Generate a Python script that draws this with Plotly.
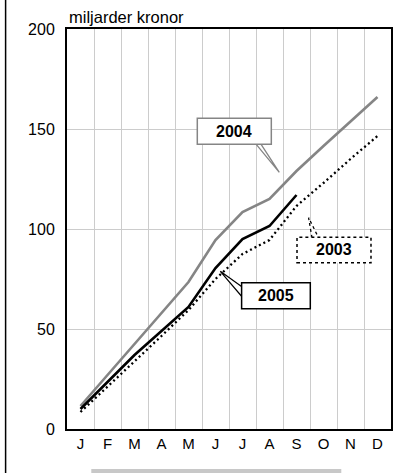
import plotly.graph_objects as go

months = ["J", "F", "M", "A", "M", "J", "J", "A", "S", "O", "N", "D"]
y2003 = [8.5, 21, 34, 46.5, 59.5, 75, 87.5, 94.5, 111.5, 123, 135, 146.5]
y2004 = [11.5, 27, 42.5, 58, 73.5, 94.5, 108.5, 115, 129, 141.5, 153.5, 166]
y2005 = [10, 23.5, 37, 49, 61, 80.5, 95, 101.5, 117]
y_ticks = [0, 50, 100, 150, 200]

xi = list(range(len(months)))
FONT = "Liberation Sans, Arial, sans-serif"

fig = go.Figure()
fig.add_trace(go.Scatter(x=xi, y=y2004, mode="lines",
                         line=dict(color="#858585", width=2.6), showlegend=False))
fig.add_trace(go.Scatter(x=xi, y=y2003, mode="lines",
                         line=dict(color="#000000", width=2.3, dash="2px,3px"), showlegend=False))
fig.add_trace(go.Scatter(x=xi[:len(y2005)], y=y2005, mode="lines",
                         line=dict(color="#000000", width=2.6), showlegend=False))

shapes = []
# 2004 callout
shapes.append(dict(type="path", xref="x", yref="y",
                   path="M 6.47,142.9 L 7.363,128.35 L 6.659,142.9",
                   line=dict(color="#858585", width=1.3), fillcolor="white"))
shapes.append(dict(type="rect", xref="x", yref="y", x0=4.326, x1=7.067, y0=142.35, y1=155.35,
                   line=dict(color="#858585", width=1.5), fillcolor="white"))
# 2005 callout
shapes.append(dict(type="path", xref="x", yref="y",
                   path="M 5.99,71.0 L 5.178,78.85 L 5.99,66.0",
                   line=dict(color="#000000", width=1.2), fillcolor="white"))
shapes.append(dict(type="rect", xref="x", yref="y", x0=5.967, x1=8.511, y0=60.15, y1=73.15,
                   line=dict(color="#000000", width=1.5), fillcolor="white"))
# 2003 callout
shapes.append(dict(type="path", xref="x", yref="y",
                   path="M 8.574,95.6 L 8.448,105.65 L 8.819,95.6",
                   line=dict(color="#000000", width=1.3, dash="dot"), fillcolor="white"))
shapes.append(dict(type="rect", xref="x", yref="y", x0=8.019, x1=10.759, y0=83.15, y1=95.85,
                   line=dict(color="#000000", width=1.5, dash="dot"), fillcolor="white"))
# bottom gray bar and left border line
shapes.append(dict(type="rect", xref="paper", yref="paper", x0=0.075, x1=0.8466, y0=-0.12, y1=-0.1,
                   line=dict(width=0), fillcolor="#c8c8c8", layer="below"))
shapes.append(dict(type="line", xref="paper", yref="paper", x0=-0.1895, x1=-0.1895, y0=-0.12, y1=1.08,
                   line=dict(color="#000000", width=1.5)))

annotations = [
    dict(x=5.70, y=149, xref="x", yref="y", text="<b>2004</b>", showarrow=False,
         font=dict(family=FONT, size=16, color="#000000")),
    dict(x=7.239, y=66.65, xref="x", yref="y", text="<b>2005</b>", showarrow=False,
         font=dict(family=FONT, size=16, color="#000000")),
    dict(x=9.389, y=89.6, xref="x", yref="y", text="<b>2003</b>", showarrow=False,
         font=dict(family=FONT, size=16, color="#000000")),
    dict(x=0, y=1, xref="paper", yref="paper", xanchor="left", yanchor="middle", yshift=12,
         text="miljarder kronor", showarrow=False,
         font=dict(family=FONT, size=16.5, color="#000000")),
]

fig.update_layout(
    width=414, height=473,
    margin=dict(l=66.7, r=23.3, t=29, b=44, pad=0),
    paper_bgcolor="white", plot_bgcolor="white",
    font=dict(family=FONT, color="#000000"),
    shapes=shapes, annotations=annotations,
    xaxis=dict(range=[-0.5, 11.5], tickvals=xi, ticktext=months, showgrid=False,
               zeroline=False, showline=True, mirror=True, linecolor="#000000", linewidth=2,
               ticks="", ticklabelstandoff=0, tickfont=dict(family=FONT, size=15),
               minor=dict(tickvals=[i + 0.5 for i in xi[:-1]], showgrid=True,
                          gridcolor="#cccccc", gridwidth=1, ticks=""),
               fixedrange=True),
    yaxis=dict(range=[0, 200], tickvals=y_ticks, showgrid=True, gridcolor="#cccccc", gridwidth=1,
               zeroline=False, showline=True, mirror=True, linecolor="#000000", linewidth=2,
               ticks="", ticklabelstandoff=7, tickfont=dict(family=FONT, size=16),
               fixedrange=True),
)

fig.write_html("out.html", config={"displayModeBar": False},
               post_script="document.body.style.margin='0';document.body.style.overflow='hidden';")
